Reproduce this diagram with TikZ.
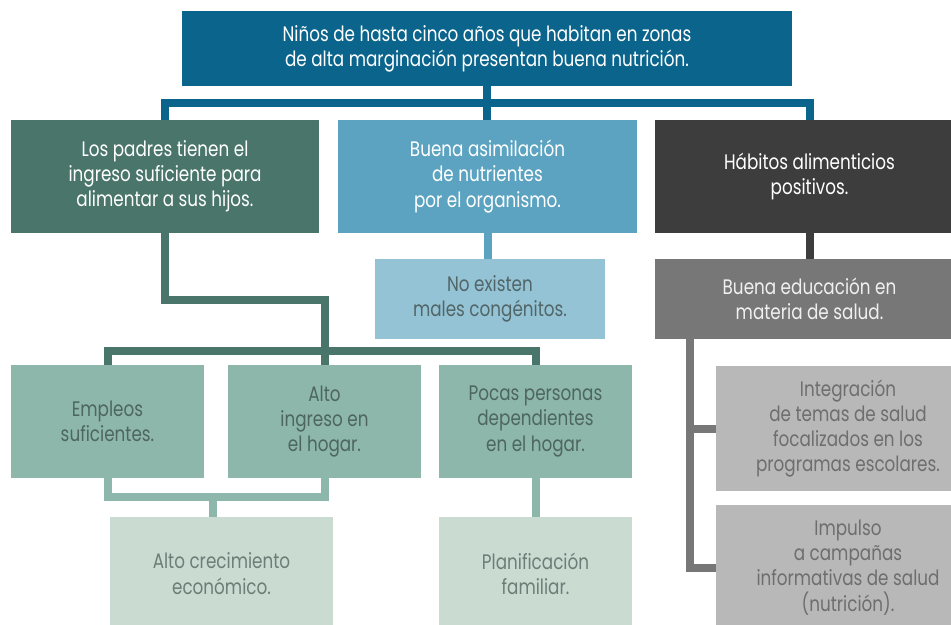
\documentclass[tikz,border=0pt]{standalone}
\usepackage{fontspec}
\setmainfont{Poppins}[FakeStretch=0.8]
\usepackage{xcolor}
\usetikzlibrary{positioning}
\definecolor{topblue}{RGB}{10,100,140}
\definecolor{darkgreen}{RGB}{73,117,106}
\definecolor{midblue}{RGB}{91,163,193}
\definecolor{darkgrey}{RGB}{61,61,61}
\definecolor{paleblue}{RGB}{148,195,213}
\definecolor{midgrey}{RGB}{119,119,119}
\definecolor{sage}{RGB}{141,183,171}
\definecolor{palesage}{RGB}{202,219,210}
\definecolor{lightgrey}{RGB}{184,184,184}
\definecolor{slatetext}{RGB}{82,102,104}
\definecolor{sagetext}{RGB}{78,102,96}
\definecolor{palesagetext}{RGB}{108,126,119}
\definecolor{greytext}{RGB}{110,110,110}
\tikzset{
	box/.style={rectangle, inner sep=0pt, align=center, font=\fontsize{10.5}{12.6}\selectfont},
	bigbox/.style={box, minimum width=154pt, minimum height=56.5pt},
	smallbox/.style={box, minimum width=96.5pt, minimum height=56.5pt},
	greybox/.style={box, fill=lightgrey, text=greytext, minimum width=132pt, minimum height=62.5pt},
	conn/.style={line width=4pt},
}

\begin{document}
\begin{tikzpicture}[x=0.5pt, y=-0.5pt]
	\clip (0,0) rectangle (951,625);

	\node[box, fill=topblue, text=white, minimum width=305pt, minimum height=37.5pt] (top) at (487,48.5)
		{Niños de hasta cinco años que habitan en zonas\\de alta marginación presentan buena nutrición.};

	\node[bigbox, fill=darkgreen, text=white] (padres) at (165,176.5)
		{Los padres tienen el\\ingreso suficiente para\\alimentar a sus hijos.};
	\node[bigbox, fill=midblue, text=white, minimum width=149.5pt] (asim) at (487.5,176.5)
		{Buena asimilación\\de nutrientes\\por el organismo.};
	\node[bigbox, fill=darkgrey, text=white, minimum width=154.5pt] (habitos) at (809.5,176.5)
		{Hábitos alimenticios\\positivos.};

	\node[box, fill=paleblue, text=slatetext, minimum width=115pt, minimum height=40pt] (nomales) at (490,299)
		{No existen\\males congénitos.};
	\node[box, fill=midgrey, text=white!94!black, minimum width=154.5pt, minimum height=40pt] (educ) at (809.5,299)
		{Buena educación en\\materia de salud.};

	\node[smallbox, fill=sage, text=sagetext] (empleos) at (107.5,421.5) {Empleos\\suficientes.};
	\node[smallbox, fill=sage, text=sagetext] (altoing) at (324.5,421.5) {Alto\\ingreso en\\el hogar.};
	\node[smallbox, fill=sage, text=sagetext] (pocas) at (535.5,421.5) {Pocas personas\\dependientes\\en el hogar.};

	\node[smallbox, fill=palesage, text=palesagetext, minimum width=111.5pt] (crecim) at (221.5,573.5)
		{Alto crecimiento\\económico.};
	\node[smallbox, fill=palesage, text=palesagetext] (planif) at (535.5,573.5)
		{Planificación\\familiar.};

	\node[greybox] (integ) at (848,428.5)
		{Integración\\de temas de salud\\focalizados en los\\programas escolares.};
	\node[greybox] (impulso) at (848,567.5)
		{Impulso\\a campañas\\informativas de salud\\(nutrición).};

	\coordinate (bus1) at (487,103);
	\coordinate (elbow) at (324.5,299.5);
	\coordinate (bus2) at (324.5,351);
	\coordinate (bus3) at (213,497);
	\coordinate (rail) at (690,339);

	\draw[conn, topblue] (top.south) -- (top.south |- asim.north);
	\draw[conn, topblue] (padres.north) |- (bus1) -| (habitos.north);
	\draw[conn, midblue] (asim.south) -- (asim.south |- nomales.north);
	\draw[conn, darkgrey] (habitos.south) -- (educ.north);

	\draw[conn, darkgreen] (padres.south) |- (elbow) -- (altoing.north);
	\draw[conn, darkgreen] (empleos.north) |- (bus2) -| (pocas.north);

	\draw[conn, sage] (empleos.south) |- (bus3) -| (altoing.south);
	\draw[conn, sage] (bus3) -- (bus3 |- crecim.north);
	\draw[conn, sage] (pocas.south) -- (planif.north);

	\draw[conn, midgrey] (rail) |- (impulso.west);
	\draw[conn, midgrey] (rail |- integ.west) -- (integ.west);
\end{tikzpicture}
\end{document}
